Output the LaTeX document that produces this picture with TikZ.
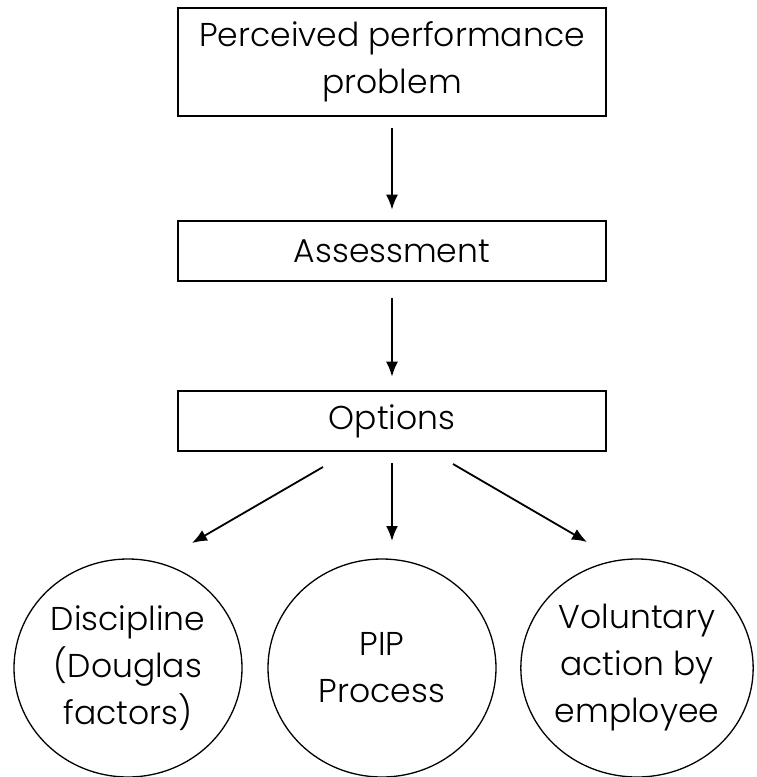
\documentclass[tikz,border=0pt]{standalone}
\usepackage{fontspec}
\setmainfont{Poppins}[UprightFont=* Light]
\usepackage{tikz}
\usetikzlibrary{arrows.meta,shapes}

\begin{document}
\begin{tikzpicture}[x=1pt, y=-1pt,
    box style/.style={rectangle, draw, line width=2.6pt, minimum width=428pt, inner sep=0pt, align=center, font=\fontsize{33pt}{47pt}\selectfont},
    oval style/.style={ellipse, draw, line width=1.3pt, minimum width=228pt, minimum height=218pt, inner sep=0pt, align=center, font=\fontsize{33pt}{47pt}\selectfont},
    arrow style/.style={-{Latex[length=15pt,width=12pt]}, line width=1.8pt}
]
\useasboundingbox (0,0) rectangle (757,777);

% boxes
\node[box style, minimum height=108pt] (problem) at (392,62) {Perceived performance\\problem};
\node[box style, minimum height=60pt] (assess) at (392,251) {Assessment};
\node[box style, minimum height=60pt] (options) at (392,421) {Options};

% outcomes
\node[oval style] (discipline) at (128,668) {Discipline\\(Douglas\\factors)};
\node[oval style] (pip) at (382,668) {PIP\\Process};
\node[oval style] (voluntary) at (637,668) {Voluntary\\action by\\employee};

% free arrow ends
\coordinate (l0) at (323,467);
\coordinate (l1) at (192,543);
\coordinate (m0) at (392,463);
\coordinate (m1) at (392,541);
\coordinate (r0) at (453,464);
\coordinate (r1) at (587,542);

\draw[arrow style, shorten <=11pt, shorten >=10pt] (problem) -- (assess);
\draw[arrow style, shorten <=16pt, shorten >=13pt] (assess) -- (options);
\draw[arrow style] (l0) -- (l1);
\draw[arrow style] (m0) -- (m1);
\draw[arrow style] (r0) -- (r1);
\end{tikzpicture}
\end{document}
